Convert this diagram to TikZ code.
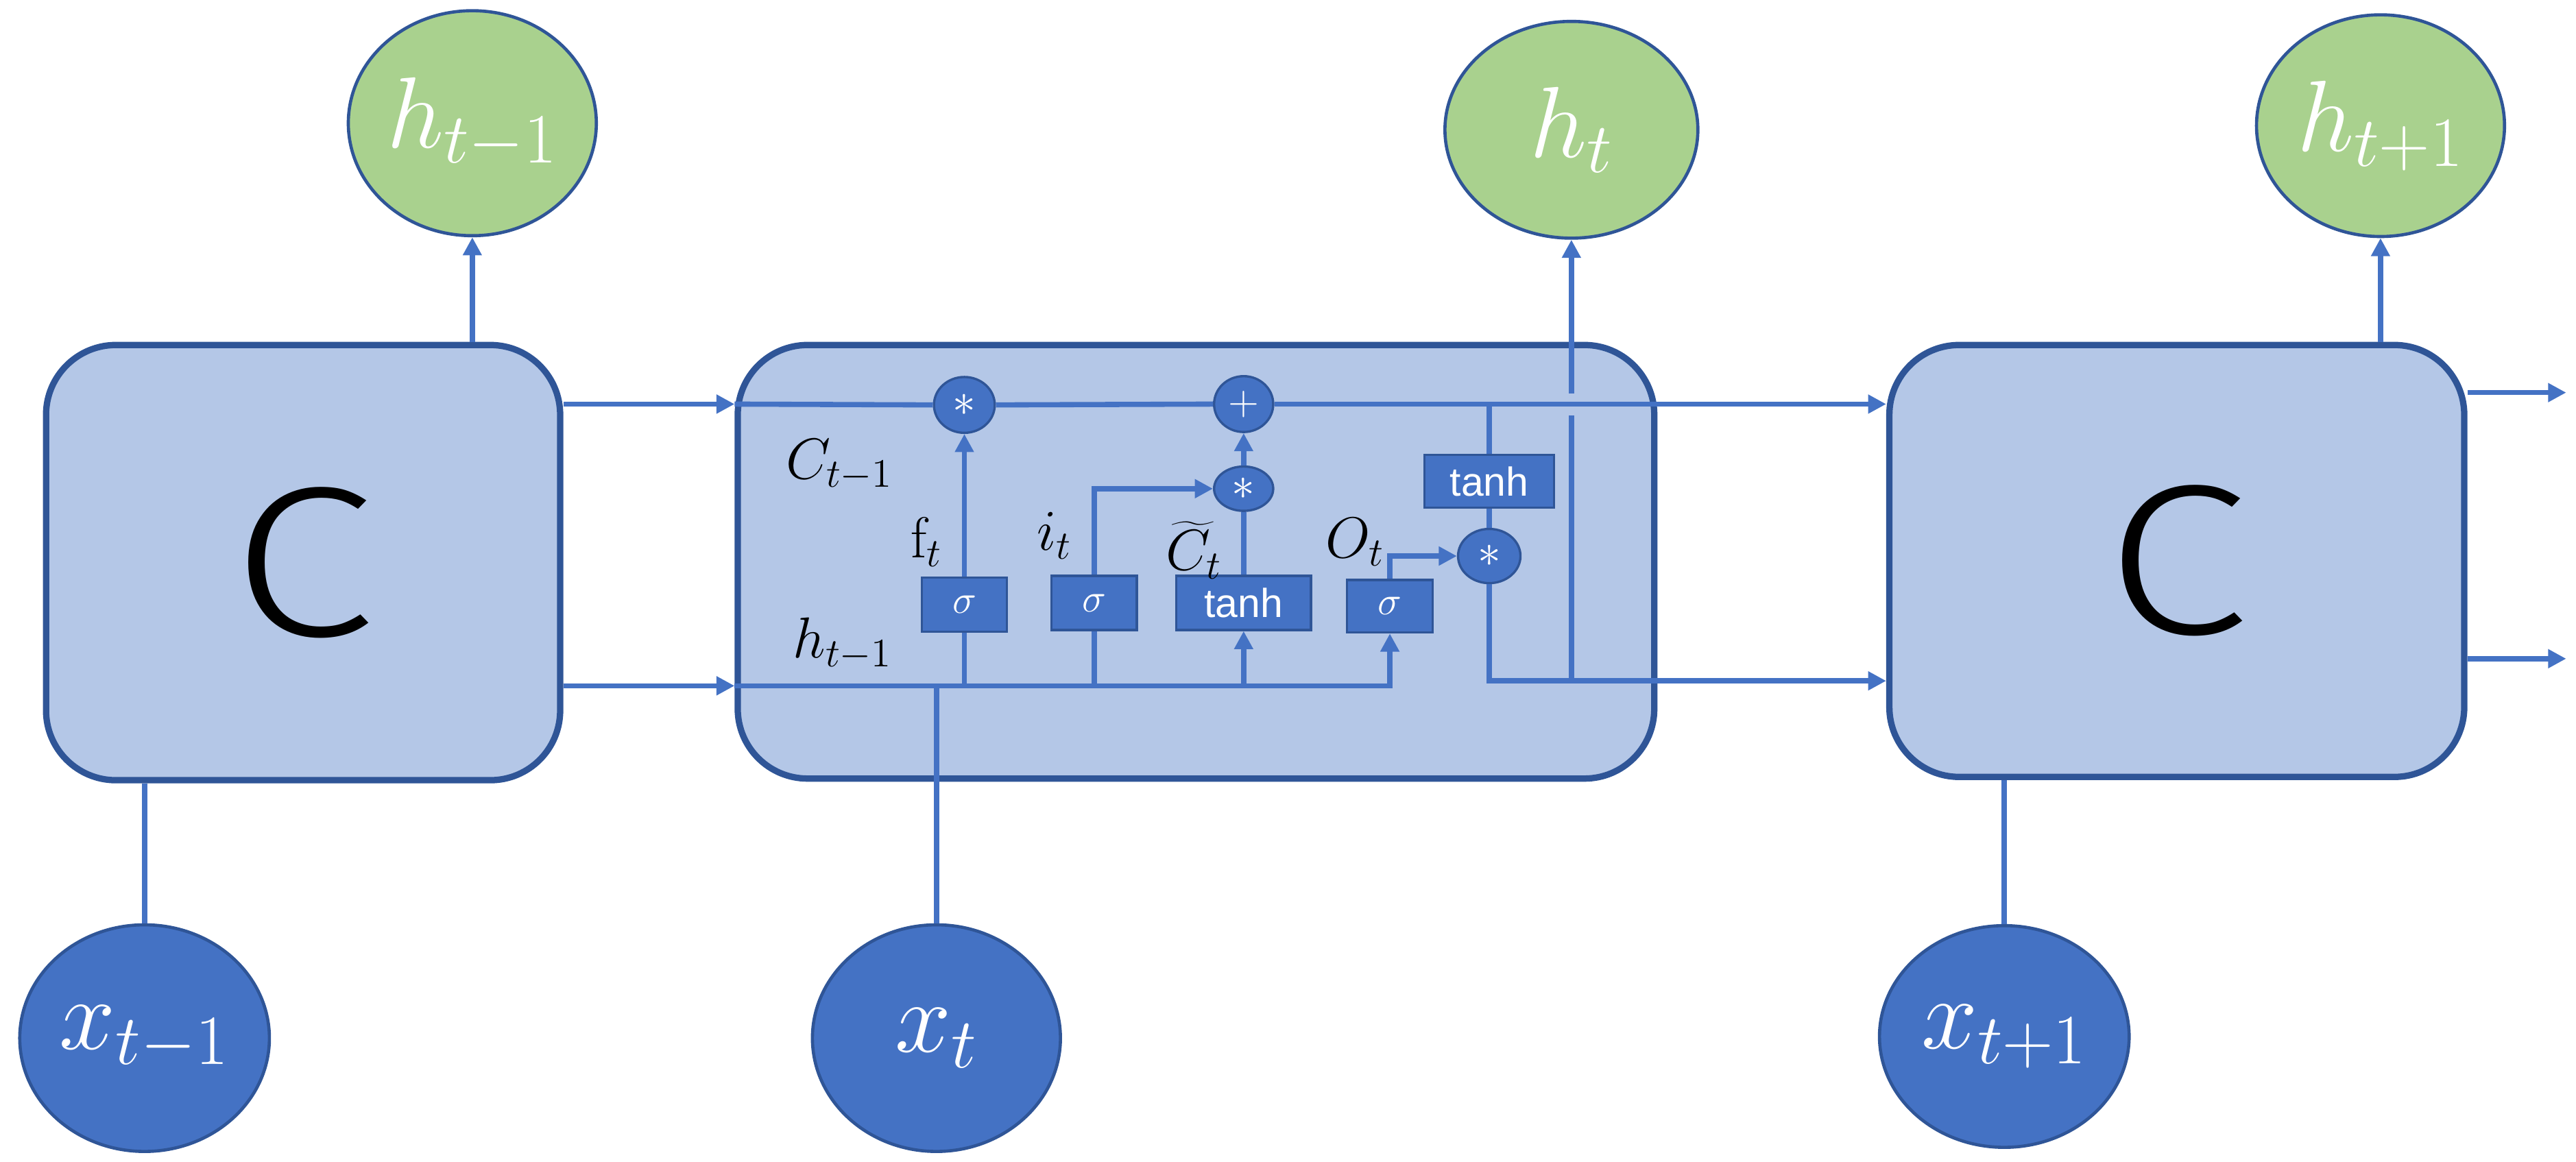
\RequirePackage{fix-cm}
\documentclass[tikz,border=0pt]{standalone}
\usepackage{fontspec}
\setsansfont{Liberation Sans}
\newfontfamily\cfont{Fira Sans Light}
\usetikzlibrary{shapes.geometric,arrows.meta}
\definecolor{boxfill}{HTML}{B4C7E7}
\definecolor{darkb}{HTML}{2F5597}
\definecolor{lineb}{HTML}{4472C4}
\definecolor{greenf}{HTML}{A9D18E}
\begin{document}
\begin{tikzpicture}[x=0.02cm, y=-0.02cm,
  cell/.style={rectangle, draw=darkb, line width=2.2pt, fill=boxfill, rounded corners=0.85cm, inner sep=0,
    font=\cfont\fontsize{74}{84}\selectfont},
  hnode/.style={ellipse, draw=darkb, line width=1.1pt, fill=greenf, text=white, inner sep=0,
    font=\fontsize{35}{40}\selectfont},
  xnode/.style={ellipse, draw=darkb, line width=1.1pt, fill=lineb, text=white, inner sep=0,
    font=\fontsize{35}{40}\selectfont},
  gate/.style={rectangle, draw=darkb, line width=0.8pt, fill=lineb, text=white, inner sep=0,
    font=\sffamily\fontsize{14}{16}\selectfont},
  op/.style={ellipse, draw=darkb, line width=0.8pt, fill=lineb, text=white, inner sep=0},
  conn/.style={draw=lineb, line width=1.8pt},
  arr/.style={conn, -{Triangle[length=0.22cm,width=0.22cm]}},
  lbl/.style={inner sep=0, font=\fontsize{20}{24}\selectfont}
]
\useasboundingbox (0,0) rectangle (1568,707);

% cells
\node[cell, minimum width=6.26cm, minimum height=5.3cm] (L) at (184.5,342.5) {\scalebox{1.22}[1]{C}};
\node[cell, minimum width=11.16cm, minimum height=5.28cm] (M) at (728,342) {};
\node[cell, minimum width=7.0cm, minimum height=5.26cm] (R) at (1325,341.5) {\scalebox{1.22}[1]{C}};

% outputs and inputs
\node[hnode, minimum width=3.02cm, minimum height=2.74cm] (hL) at (287.5,75) {$h_{t-1}$};
\node[hnode, minimum width=3.08cm, minimum height=2.64cm] (hM) at (956.5,79) {$h_{t}$};
\node[hnode, minimum width=3.02cm, minimum height=2.70cm] (hR) at (1449,76.5) {$h_{t+1}$};
\node[xnode, minimum width=3.04cm, minimum height=2.76cm] (xL) at (88,632) {$x_{t-1}$};
\node[xnode, minimum width=3.02cm, minimum height=2.76cm] (xM) at (570,632) {$x_{t}$};
\node[xnode, minimum width=3.04cm, minimum height=2.70cm] (xR) at (1220,631) {$x_{t+1}$};

% gates
\node[gate, minimum width=1.04cm, minimum height=0.66cm] (sf) at (587,368) {$\sigma$};
\node[gate, minimum width=1.04cm, minimum height=0.66cm] (si) at (666,367) {$\sigma$};
\node[gate, minimum width=1.64cm, minimum height=0.66cm] (tc) at (757,367) {tanh};
\node[gate, minimum width=1.04cm, minimum height=0.64cm] (so) at (846,369) {$\sigma$};
\node[gate, minimum width=1.58cm, minimum height=0.64cm] (th) at (906.5,293) {tanh};
\node[op, minimum width=0.74cm, minimum height=0.68cm, font=\fontsize{16}{18}\selectfont] (mf) at (587,246.5) {$\ast$};
\node[op, minimum width=0.72cm, minimum height=0.68cm, font=\fontsize{14}{16}\selectfont] (ad) at (757,246) {$+$};
\node[op, minimum width=0.72cm, minimum height=0.54cm, font=\fontsize{16}{18}\selectfont] (mi) at (757,297.5) {$\ast$};
\node[op, minimum width=0.76cm, minimum height=0.66cm, font=\fontsize{16}{18}\selectfont] (mo) at (906.5,338.5) {$\ast$};

% labels
\node[lbl] (lC) at (511,283) {$C_{t-1}$};
\node[lbl] (lf) at (564,330) {$\mathrm{f}_t$};
\node[lbl] (li) at (642,326) {$i_t$};
\node[lbl] (lCt) at (727,335) {$\widetilde{C}_t$};
\node[lbl] (lO) at (825,330) {$O_t$};
\node[lbl] (lh) at (513,392) {$h_{t-1}$};

% helper coordinates
\coordinate (cy) at (0,246);
\coordinate (hy) at (0,417.5);
\coordinate (oy) at (0,414.5);
\coordinate (hg1) at (956.5,253);
\coordinate (hg2) at (956.5,239.5);
\coordinate (o1) at (1562,239);
\coordinate (o2) at (1562,401);

% left cell connections
\draw[arr] (L.east |- cy) -- (M.west |- cy);
\draw[arr] (L.east |- hy) -- (M.west |- hy);
\draw[arr] (hL.south |- L.north) -- (hL.south);
\draw[conn] (xL.north) -- (xL.north |- L.south);

% middle cell internals
\draw[conn] (M.west |- cy) -- (mf.west);
\draw[conn] (mf.east) -- (ad.west);
\draw[arr] (ad.east) -- (R.west |- cy);
\draw[arr] (M.west |- hy) -| (so.south);
\draw[conn] (xM.north) -- (xM.north |- hy);
\draw[conn] (sf.south) -- (sf.south |- hy);
\draw[arr] (sf.north) -- (mf.south);
\draw[conn] (si.south) -- (si.south |- hy);
\draw[arr] (si.north) |- (mi.west);
\draw[arr] (tc.south |- hy) -- (tc.south);
\draw[conn] (tc.north) -- (mi.south);
\draw[arr] (mi.north) -- (ad.south);
\draw[arr] (so.north) |- (mo.west);
\draw[conn] (th.north |- cy) -- (th.north);
\draw[conn] (th.south) -- (mo.north);
\draw[arr] (mo.south) |- (R.west |- oy);
\draw[conn] (hg1 |- oy) -- (hg1);
\draw[arr] (hg2) -- (hM.south);

% right cell connections
\draw[arr] (hR.south |- R.north) -- (hR.south);
\draw[conn] (xR.north) -- (xR.north |- R.south);
\draw[arr] (o1 -| R.east) -- (o1);
\draw[arr] (o2 -| R.east) -- (o2);
\end{tikzpicture}
\end{document}
